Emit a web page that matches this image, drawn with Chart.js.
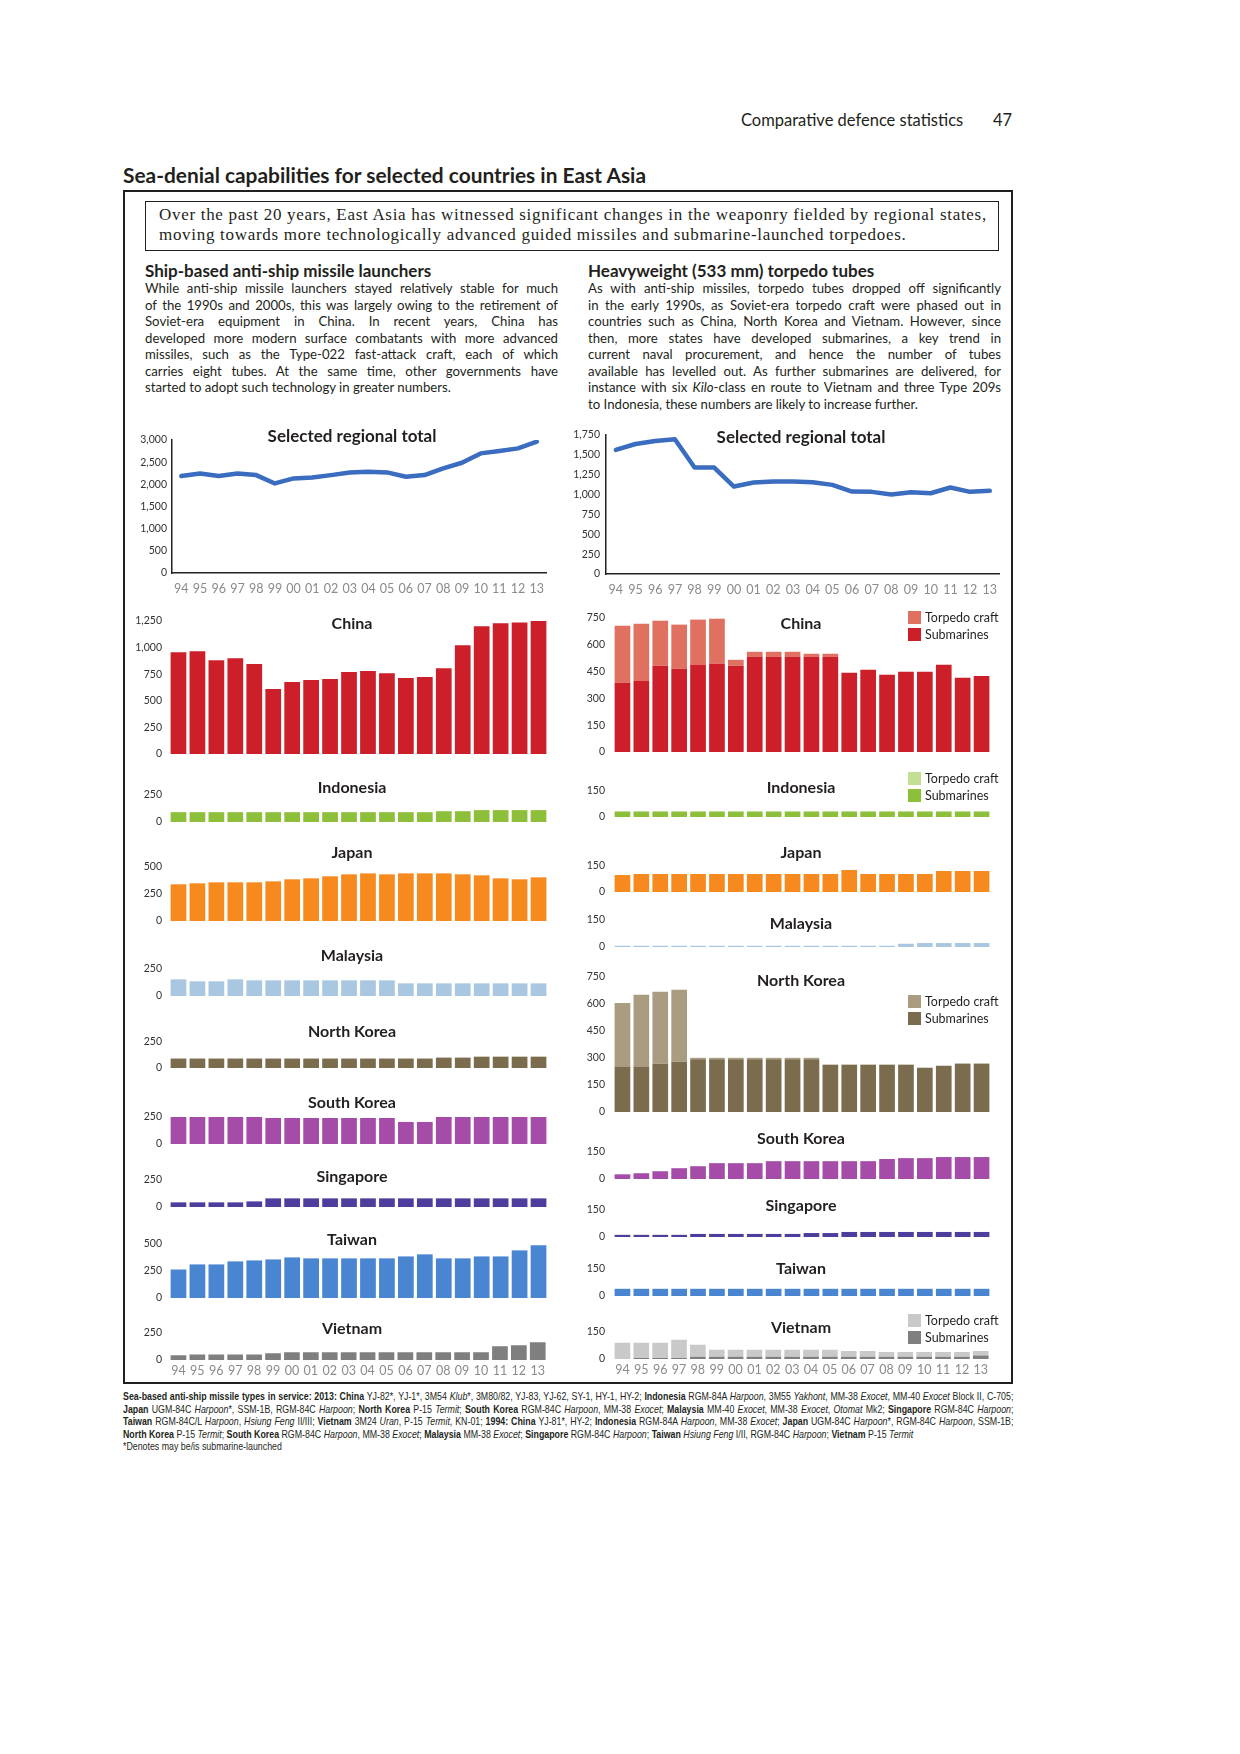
<!DOCTYPE html>
<html><head><meta charset="utf-8">
<script src="https://cdn.jsdelivr.net/npm/chart.js@4.4.1/dist/chart.umd.min.js"></script>
<style>
html,body{margin:0;padding:0;background:#fff;}
body{width:1240px;height:1754px;position:relative;overflow:hidden;font-family:Lato,'Open Sans',sans-serif;color:#231f20;}
.abs{position:absolute;}
canvas{position:absolute;}
.ttl{position:absolute;font-weight:bold;font-size:16px;line-height:18px;transform:translate(-50%,-50%);white-space:nowrap;}
.jl{text-align:justify;text-align-last:justify;white-space:nowrap;}
.ll{text-align:left;white-space:nowrap;}
.body{position:absolute;width:413px;font-size:13.2px;line-height:16.55px;}
.lg{position:absolute;font-size:12.5px;line-height:13px;white-space:nowrap;}
.sw{position:absolute;width:13px;height:13px;}
.fn{position:absolute;left:123px;width:1060px;font-family:'Liberation Sans Narrow','Arial Narrow',sans-serif;font-size:10.5px;line-height:12.5px;transform:scaleX(0.84);transform-origin:left top;}
.fn div{height:12.5px;}
</style></head>
<body>
<div class="abs" style="left:741px;top:110px;font-size:16.5px;line-height:20px;white-space:nowrap;">Comparative defence statistics</div>
<div class="abs" style="left:993px;top:110px;font-size:16.5px;line-height:20px;">47</div>
<div class="abs" style="left:123px;top:163px;font-size:20.9px;font-weight:bold;line-height:24px;white-space:nowrap;">Sea-denial capabilities for selected countries in East Asia</div>
<div class="abs" style="left:123px;top:190px;width:886px;height:1190px;border:2px solid #231f20;"></div>
<div class="abs" style="left:145px;top:201px;width:852px;height:48px;border:1px solid #231f20;"></div>
<div class="abs" style="left:159px;top:205px;font-family:'Liberation Serif',serif;font-size:17px;letter-spacing:0.7px;line-height:20px;white-space:nowrap;">Over the past 20 years, East Asia has witnessed significant changes in the weaponry fielded by regional states,<br>moving towards more technologically advanced guided missiles and submarine-launched torpedoes.</div>

<div class="abs" style="left:145px;top:261px;font-size:17px;font-weight:bold;line-height:19px;white-space:nowrap;">Ship-based anti-ship missile launchers</div>
<div class="body" style="left:145px;top:280px;">
<div class="jl">While anti-ship missile launchers stayed relatively stable for much</div>
<div class="jl">of the 1990s and 2000s, this was largely owing to the retirement of</div>
<div class="jl">Soviet-era equipment in China. In recent years, China has</div>
<div class="jl">developed more modern surface combatants with more advanced</div>
<div class="jl">missiles, such as the Type-022 fast-attack craft, each of which</div>
<div class="jl">carries eight tubes. At the same time, other governments have</div>
<div class="ll">started to adopt such technology in greater numbers.</div>
</div>

<div class="abs" style="left:588px;top:261px;font-size:17px;font-weight:bold;line-height:19px;white-space:nowrap;">Heavyweight (533 mm) torpedo tubes</div>
<div class="body" style="left:588px;top:280px;">
<div class="jl">As with anti-ship missiles, torpedo tubes dropped off significantly</div>
<div class="jl">in the early 1990s, as Soviet-era torpedo craft were phased out in</div>
<div class="jl">countries such as China, North Korea and Vietnam. However, since</div>
<div class="jl">then, more states have developed submarines, a key trend in</div>
<div class="jl">current naval procurement, and hence the number of tubes</div>
<div class="jl">available has levelled out. As further submarines are delivered, for</div>
<div class="jl">instance with six <i>Kilo</i>-class en route to Vietnam and three Type 209s</div>
<div class="ll">to Indonesia, these numbers are likely to increase further.</div>
</div>

<div class="fn" style="top:1390px;">
<div class="jl"><b>Sea-based anti-ship missile types in service: 2013: China</b> YJ-82*, YJ-1*, 3M54 <i>Klub</i>*, 3M80/82, YJ-83, YJ-62, SY-1, HY-1, HY-2; <b>Indonesia</b> RGM-84A <i>Harpoon</i>, 3M55 <i>Yakhont</i>, MM-38 <i>Exocet</i>, MM-40 <i>Exocet</i> Block II, C-705;</div>
<div class="jl"><b>Japan</b> UGM-84C <i>Harpoon</i>*, SSM-1B, RGM-84C <i>Harpoon</i>; <b>North Korea</b> P-15 <i>Termit</i>; <b>South Korea</b> RGM-84C <i>Harpoon</i>, MM-38 <i>Exocet</i>; <b>Malaysia</b> MM-40 <i>Exocet</i>, MM-38 <i>Exocet</i>, <i>Otomat</i> Mk2; <b>Singapore</b> RGM-84C <i>Harpoon</i>;</div>
<div class="jl"><b>Taiwan</b> RGM-84C/L <i>Harpoon</i>, <i>Hsiung Feng</i> II/III; <b>Vietnam</b> 3M24 <i>Uran</i>, P-15 <i>Termit</i>, KN-01; <b>1994: China</b> YJ-81*, HY-2; <b>Indonesia</b> RGM-84A <i>Harpoon</i>, MM-38 <i>Exocet</i>; <b>Japan</b> UGM-84C <i>Harpoon</i>*, RGM-84C <i>Harpoon</i>, SSM-1B;</div>
<div class="ll"><b>North Korea</b> P-15 <i>Termit</i>; <b>South Korea</b> RGM-84C <i>Harpoon</i>, MM-38 <i>Exocet</i>; <b>Malaysia</b> MM-38 <i>Exocet</i>; <b>Singapore</b> RGM-84C <i>Harpoon</i>; <b>Taiwan</b> <i>Hsiung Feng</i> I/II, RGM-84C <i>Harpoon</i>; <b>Vietnam</b> P-15 <i>Termit</i></div>
<div class="ll">*Denotes may be/is submarine-launched</div>
</div>

<script>
// ---------- DATA ----------
const years = ['94','95','96','97','98','99','00','01','02','03','04','05','06','07','08','09','10','11','12','13'];

// Ship-based anti-ship missile launchers
const missileTotal = [2186,2246,2186,2246,2208,2020,2133,2156,2208,2269,2284,2269,2171,2208,2359,2487,2698,2751,2811,2962];
const msChina      = [957,966,882,901,845,611,676,695,704,770,779,760,714,723,807,1022,1200,1228,1237,1256];
const msIndonesia  = [91,91,91,91,91,91,91,91,91,91,91,91,91,91,100,100,110,110,110,110];
const msJapan      = [340,349,358,358,358,367,386,395,414,432,441,432,441,441,441,432,423,395,386,404];
const msMalaysia   = [154,136,136,154,145,145,145,145,145,145,145,145,117,117,117,117,117,117,117,117];
const msNorthKorea = [91,91,91,91,91,91,91,91,91,91,91,91,91,91,100,100,109,109,109,109];
const msSouthKorea = [268,268,268,268,250,241,241,241,241,241,241,241,204,204,259,259,259,268,268,306];
const msSingapore  = [43,43,43,43,52,80,80,80,80,80,80,80,80,80,80,80,80,80,80,80];
const msTaiwan     = [264,311,311,339,348,357,376,367,367,367,367,367,385,404,367,367,385,385,441,488];
const msVietnam    = [43,52,52,52,52,62,71,71,71,71,71,71,71,71,71,71,71,127,136,164];

// Heavyweight (533 mm) torpedo tubes
const torpedoTotal   = [1562,1637,1675,1696,1340,1340,1101,1151,1164,1164,1156,1122,1038,1034,1001,1030,1017,1089,1034,1047];
const ttChinaSub     = [387,398,483,466,488,494,483,533,533,533,533,533,443,460,432,449,449,488,415,426];
const ttChinaCraft   = [320,320,252,247,253,252,33,28,28,28,17,17,0,0,0,0,0,0,0,0];
const ttIndonesiaSub = [32,32,32,32,32,32,32,32,32,32,32,32,32,32,32,32,32,32,32,32];
const ttIndonesiaCraft = [0,0,0,0,0,0,0,0,0,0,0,0,0,0,0,0,0,0,0,0];
const ttJapan        = [98,104,104,104,104,104,104,104,104,104,104,104,127,104,104,104,104,121,121,121];
const ttMalaysia     = [7,7,7,7,7,7,7,7,7,7,7,7,7,7,7,18,22,22,22,22];
const ttNorthKoreaSub   = [252,252,269,280,293,293,293,293,293,293,293,263,263,263,263,263,246,257,269,269];
const ttNorthKoreaCraft = [353,400,399,399,8,8,8,8,8,8,8,0,0,0,0,0,0,0,0,0];
const ttSouthKorea   = [26,32,43,60,71,88,88,88,99,99,99,99,99,99,111,116,116,122,122,122];
const ttSingapore    = [12,12,12,12,17,17,17,17,17,17,22,22,28,28,28,28,28,28,28,28];
const ttTaiwan       = [40,40,40,40,40,40,40,40,40,40,40,40,40,40,40,40,40,40,40,40];
const ttVietnamSub   = [0,6,6,6,12,12,12,12,12,12,12,12,12,12,12,12,12,12,12,20];
const ttVietnamCraft = [90,84,84,101,67,39,39,39,39,39,39,39,33,33,27,27,27,27,27,25];

const C = {
  line:'#3a6cc0', china:'#cc1f2a', chinaT:'#e0705f', indo:'#8dbf3b', indoT:'#c3df93',
  japan:'#f68a1e', malaysia:'#a9c7e0', nk:'#7b6c4e', nkT:'#a99c80', sk:'#a54ca8',
  sing:'#4f3d9e', taiwan:'#4a85d1', vn:'#7f7f7f', vnT:'#c9c9c9'
};

Chart.defaults.font.family = "Lato, 'Open Sans', sans-serif";
const fmt = v => Number(v).toLocaleString('en-US');
const PAD = 16;

function addCanvas(left, top, w, h) {
  const c = document.createElement('canvas');
  c.width = w; c.height = h;
  c.style.left = left + 'px'; c.style.top = top + 'px';
  c.style.width = w + 'px'; c.style.height = h + 'px';
  document.body.appendChild(c);
  return c;
}

function title(text, cx, cy, size) {
  const d = document.createElement('div');
  d.className = 'ttl';
  d.textContent = text;
  d.style.left = cx + 'px'; d.style.top = cy + 'px';
  if (size) d.style.fontSize = size + 'px';
  document.body.appendChild(d);
}

function legend(x, y, items) {
  items.forEach((it, i) => {
    const s = document.createElement('div');
    s.className = 'sw';
    s.style.left = x + 'px'; s.style.top = (y + i * 17) + 'px';
    s.style.background = it.color;
    document.body.appendChild(s);
    const t = document.createElement('div');
    t.className = 'lg';
    t.textContent = it.label;
    t.style.left = (x + 17) + 'px'; t.style.top = (y + i * 17) + 'px';
    document.body.appendChild(t);
  });
}

function barChart(o) {
  const top = Math.round(o.yTop) - PAD;
  const zero = Math.round(o.yZero);
  const bottom = o.xlabels ? 24 : PAD;
  const h = zero - top + bottom;
  const c = addCanvas(o.left, top, o.w, h);
  const xOpts = {
    display: !!o.xlabels, stacked: true, offset: true,
    grid: { display: false, drawTicks: false }, border: { display: false },
    ticks: { color: '#8a8a8a', font: { size: 12.5 }, padding: 3, maxRotation: 0, autoSkip: false }
  };
  if (o.xlabels) xOpts.afterFit = a => { a.height = 24; };
  new Chart(c, {
    type: 'bar',
    data: {
      labels: years,
      datasets: o.sets.map(s => ({
        label: s.label, data: s.data, backgroundColor: s.color, borderWidth: 0,
        categoryPercentage: 1, barPercentage: 0.83, stack: 'a'
      }))
    },
    options: {
      responsive: false, animation: false, devicePixelRatio: 1,
      layout: { padding: { top: PAD, bottom: o.xlabels ? 0 : PAD, left: 0, right: 0 } },
      plugins: { legend: { display: false }, tooltip: { enabled: false }, title: { display: false } },
      scales: {
        x: xOpts,
        y: {
          stacked: true, min: 0, max: o.max,
          grid: { display: false, drawTicks: false }, border: { display: false },
          ticks: { stepSize: o.step, color: '#333', font: { size: 10.5 }, padding: o.tpad, callback: fmt },
          afterFit: a => { a.width = o.yw; }
        }
      }
    }
  });
}

function lineChart(o) {
  const top = Math.round(o.yTop) - PAD;
  const zero = Math.round(o.yZero);
  const h = zero - top + 26;
  const c = addCanvas(o.left, top, o.w, h);
  new Chart(c, {
    type: 'line',
    data: { labels: years, datasets: [{ data: o.data, borderColor: C.line, borderWidth: 4.5,
      pointRadius: 0, tension: 0, borderJoinStyle: 'round', borderCapStyle: 'round', fill: false }] },
    options: {
      responsive: false, animation: false, devicePixelRatio: 1,
      layout: { padding: { top: PAD, bottom: 0, left: 0, right: 0 } },
      plugins: { legend: { display: false }, tooltip: { enabled: false }, title: { display: false } },
      scales: {
        x: {
          offset: true, grid: { display: false, drawTicks: false },
          border: { display: true, color: '#222', width: 1.5 },
          ticks: { color: '#8a8a8a', font: { size: 12.5 }, padding: 8, maxRotation: 0, autoSkip: false },
          afterFit: a => { a.height = 26; }
        },
        y: {
          min: 0, max: o.max, grid: { display: false, drawTicks: false },
          border: { display: true, color: '#222', width: 1.5 },
          ticks: { stepSize: o.step, color: '#333', font: { size: 10.5 }, padding: o.tpad, callback: fmt },
          afterFit: a => { a.width = o.yw; }
        }
      }
    }
  });
}

// ---------- LEFT COLUMN: missiles ----------
const LX = 120, LW = 428, LYW = 49, LCX = 352;
lineChart({ left: LX, w: 432, yw: 52, tpad: 5, yTop: 440, yZero: 572.7, max: 3000, step: 500, data: missileTotal });
title('Selected regional total', LCX, 436, 17);

const leftBars = [
  { name: 'China',       data: msChina,      color: C.china,    yTop: 620.7,  yZero: 754.3,  max: 1250, step: 250, ty: 622.7 },
  { name: 'Indonesia',   data: msIndonesia,  color: C.indo,     yTop: 795,    yZero: 822.3,  max: 250,  step: 250, ty: 786.7 },
  { name: 'Japan',       data: msJapan,      color: C.japan,    yTop: 867,    yZero: 921,    max: 500,  step: 250, ty: 851.7 },
  { name: 'Malaysia',    data: msMalaysia,   color: C.malaysia, yTop: 969,    yZero: 996,    max: 250,  step: 250, ty: 955 },
  { name: 'North Korea', data: msNorthKorea, color: C.nk,       yTop: 1041.7, yZero: 1068.3, max: 250,  step: 250, ty: 1030.7 },
  { name: 'South Korea', data: msSouthKorea, color: C.sk,       yTop: 1117.3, yZero: 1144.3, max: 250,  step: 250, ty: 1101.7 },
  { name: 'Singapore',   data: msSingapore,  color: C.sing,     yTop: 1180,   yZero: 1207,   max: 250,  step: 250, ty: 1175.7 },
  { name: 'Taiwan',      data: msTaiwan,     color: C.taiwan,   yTop: 1244,   yZero: 1297.7, max: 500,  step: 250, ty: 1238.7 },
  { name: 'Vietnam',     data: msVietnam,    color: C.vn,       yTop: 1332.7, yZero: 1359.7, max: 250,  step: 250, ty: 1328, xlabels: true }
];
leftBars.forEach(b => {
  barChart({ left: LX, w: LW, yw: LYW, tpad: 7, yTop: b.yTop, yZero: b.yZero, max: b.max, step: b.step,
    xlabels: b.xlabels, sets: [{ label: b.name, data: b.data, color: b.color }] });
  title(b.name, LCX, b.ty);
});

// ---------- RIGHT COLUMN: torpedo tubes ----------
const RX = 560, RW = 431, RYW = 53, RCX = 801;
lineChart({ left: 556, w: 449, yw: 50, tpad: 6, yTop: 435, yZero: 574.3, max: 1750, step: 250, data: torpedoTotal });
title('Selected regional total', RCX, 437, 17);

const rightBars = [
  { name: 'China', yTop: 618.3, yZero: 752, max: 750, step: 150, ty: 622.7,
    sets: [{ label: 'Submarines', data: ttChinaSub, color: C.china }, { label: 'Torpedo craft', data: ttChinaCraft, color: C.chinaT }],
    legendY: 611 },
  { name: 'Indonesia', yTop: 791, yZero: 816.7, max: 150, step: 150, ty: 786.7,
    sets: [{ label: 'Submarines', data: ttIndonesiaSub, color: C.indo }, { label: 'Torpedo craft', data: ttIndonesiaCraft, color: C.indoT }],
    legendY: 772 },
  { name: 'Japan', yTop: 866, yZero: 892, max: 150, step: 150, ty: 851.7,
    sets: [{ label: 'Japan', data: ttJapan, color: C.japan }] },
  { name: 'Malaysia', yTop: 920, yZero: 946.7, max: 150, step: 150, ty: 923,
    sets: [{ label: 'Malaysia', data: ttMalaysia, color: C.malaysia }] },
  { name: 'North Korea', yTop: 977.3, yZero: 1112.3, max: 750, step: 150, ty: 980,
    sets: [{ label: 'Submarines', data: ttNorthKoreaSub, color: C.nk }, { label: 'Torpedo craft', data: ttNorthKoreaCraft, color: C.nkT }],
    legendY: 995 },
  { name: 'South Korea', yTop: 1152, yZero: 1178.7, max: 150, step: 150, ty: 1137.7,
    sets: [{ label: 'South Korea', data: ttSouthKorea, color: C.sk }] },
  { name: 'Singapore', yTop: 1210, yZero: 1237, max: 150, step: 150, ty: 1205,
    sets: [{ label: 'Singapore', data: ttSingapore, color: C.sing }] },
  { name: 'Taiwan', yTop: 1269.3, yZero: 1296.3, max: 150, step: 150, ty: 1267.7,
    sets: [{ label: 'Taiwan', data: ttTaiwan, color: C.taiwan }] },
  { name: 'Vietnam', yTop: 1332.3, yZero: 1359, max: 150, step: 150, ty: 1326.7, xlabels: true,
    sets: [{ label: 'Submarines', data: ttVietnamSub, color: C.vn }, { label: 'Torpedo craft', data: ttVietnamCraft, color: C.vnT }],
    legendY: 1314 }
];
rightBars.forEach(b => {
  barChart({ left: RX, w: RW, yw: RYW, tpad: 8, yTop: b.yTop, yZero: b.yZero, max: b.max, step: b.step,
    xlabels: b.xlabels, sets: b.sets });
  title(b.name, RCX, b.ty);
  if (b.legendY) {
    legend(908, b.legendY, [
      { label: b.sets[1].label, color: b.sets[1].color },
      { label: b.sets[0].label, color: b.sets[0].color }
    ]);
  }
});
</script>
</body></html>
